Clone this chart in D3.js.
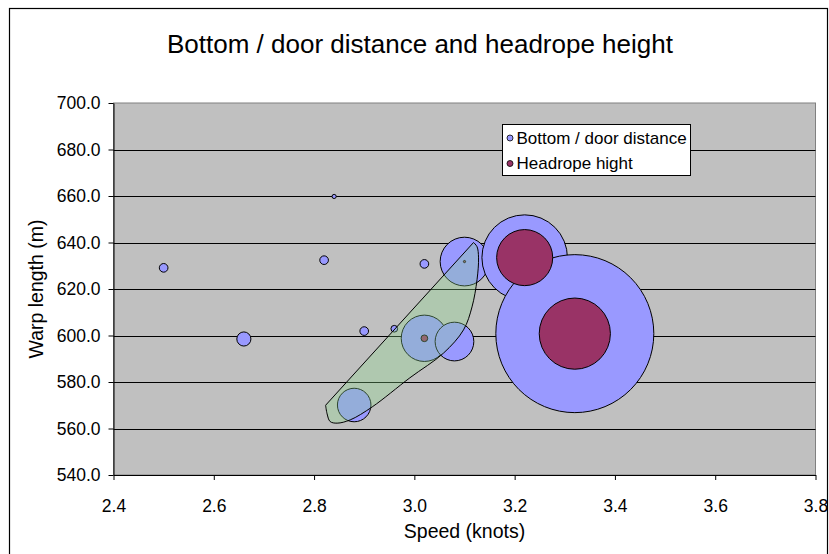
<!DOCTYPE html>
<html>
<head>
<meta charset="utf-8">
<script src="https://cdn.jsdelivr.net/npm/d3@7"></script>
<style>
  html, body { margin: 0; padding: 0; background: #fff; }
  svg { display: block; font-family: "Liberation Sans", Arial, sans-serif; }
</style>
</head>
<body>
<svg id="chart" width="829" height="554"></svg>
<script>
// Tow trials: speed through water vs. warp length paid out
const speeds      = [2.50, 2.66, 2.82, 2.84, 2.90, 2.96, 3.02, 3.02, 3.10, 3.08, 2.88, 3.22, 3.32];
const warpLengths = [629.1, 598.5, 632.4, 659.8, 601.9, 602.9, 630.8, 598.8, 631.8, 597.4, 570.1, 633.5, 600.8];
// Bubble sizes (area-proportional)
const bottomDoorDistance = [0.30, 0.80, 0.30, 0.07, 0.30, 0.18, 0.30, 8.6, 9.5, 6.0, 4.5, 29.3, 100];
const headropeHeight     = [0, 0, 0, 0, 0, 0, 0, 0.18, 0.02, 0, 0, 12.6, 20.3];

const seriesNames = ["Bottom / door distance", "Headrope hight"];
const xTicks = [2.4, 2.6, 2.8, 3.0, 3.2, 3.4, 3.6, 3.8];
const yTicks = [540, 560, 580, 600, 620, 640, 660, 680, 700];

// Outline of the highlighted group of hauls (speed, warp length)
const groupOutline = [
  [3.118, 640.0], [3.125, 638.2], [3.128, 633.4], [3.125, 624.0], [3.115, 612.3],
  [3.098, 602.4], [3.058, 592.4], [2.991, 581.8], [2.916, 569.3], [2.872, 563.7],
  [2.846, 562.3], [2.832, 563.0], [2.826, 566.3], [2.823, 570.0]
];

const svg = d3.select("#chart");
const plot = { left: 113.5, right: 815.5, top: 103, bottom: 475 };

const x = d3.scaleLinear().domain([2.4, 3.8]).range([plot.left, plot.right]);
const y = d3.scaleLinear().domain([540, 700]).range([plot.bottom, plot.top]);
const maxSize = d3.max(bottomDoorDistance.concat(headropeHeight));
const r = d3.scaleSqrt().domain([0, maxSize]).range([0, 79]);

const colors = { bottom: "#9999FF", headrope: "#993366" };

// Chart frame
svg.append("rect")
  .attr("x", 9.5).attr("y", 8.5).attr("width", 818).attr("height", 560)
  .attr("fill", "#fff").attr("stroke", "#000").attr("stroke-width", 1.2);

// Title
svg.append("text")
  .attr("x", 420).attr("y", 52.5).attr("text-anchor", "middle")
  .attr("font-size", 26).attr("fill", "#000")
  .text("Bottom / door distance and headrope height");

// Plot area
svg.append("rect")
  .attr("x", plot.left).attr("y", plot.top)
  .attr("width", plot.right - plot.left).attr("height", plot.bottom - plot.top)
  .attr("fill", "#C0C0C0").attr("stroke", "#808080").attr("stroke-width", 1);

// Horizontal gridlines
svg.append("g").selectAll("line")
  .data(yTicks.filter(v => v > 540 && v < 700))
  .join("line")
  .attr("x1", plot.left).attr("x2", plot.right)
  .attr("y1", d => Math.round(y(d)) + 0.5).attr("y2", d => Math.round(y(d)) + 0.5)
  .attr("stroke", "#000").attr("stroke-width", 1);

// Axes
const yAxis = svg.append("g")
  .attr("transform", `translate(${plot.left},0)`)
  .call(d3.axisLeft(y).tickValues(yTicks).tickFormat(d3.format(".1f"))
    .tickSize(5).tickPadding(8).tickSizeOuter(0));
const xAxis = svg.append("g")
  .attr("transform", `translate(0,${plot.bottom})`)
  .call(d3.axisBottom(x).tickValues(xTicks).tickFormat(d3.format(".1f"))
    .tickSize(5).tickPadding(20).tickSizeOuter(0));
[yAxis, xAxis].forEach(g => {
  g.selectAll("text").attr("font-size", 17.5).attr("font-family", "Liberation Sans, Arial, sans-serif").attr("fill", "#000");
  g.selectAll("line, path").attr("stroke", "#000");
});

// Axis titles
svg.append("text")
  .attr("x", (plot.left + plot.right) / 2).attr("y", 537.5)
  .attr("text-anchor", "middle").attr("font-size", 19.5)
  .text("Speed (knots)");
svg.append("text")
  .attr("transform", `translate(42.5,${(plot.top + plot.bottom) / 2}) rotate(-90)`)
  .attr("text-anchor", "middle").attr("font-size", 19.5)
  .text("Warp length (m)");

// Bubbles
const rows = speeds.map((s, i) => ({
  speed: s, warp: warpLengths[i], bottom: bottomDoorDistance[i], headrope: headropeHeight[i]
}));

const bubbles = svg.append("g");
bubbles.selectAll("circle.bottom")
  .data(rows.filter(d => d.bottom > 0))
  .join("circle").attr("class", "bottom")
  .attr("cx", d => x(d.speed)).attr("cy", d => y(d.warp)).attr("r", d => r(d.bottom))
  .attr("fill", colors.bottom).attr("stroke", "#000").attr("stroke-width", 1);
bubbles.selectAll("circle.headrope")
  .data(rows.filter(d => d.headrope > 0))
  .join("circle").attr("class", "headrope")
  .attr("cx", d => x(d.speed)).attr("cy", d => y(d.warp)).attr("r", d => r(d.headrope))
  .attr("fill", colors.headrope).attr("stroke", "#000").attr("stroke-width", 1);

// Highlighted group outline
const outline = d3.line()
  .x(d => x(d[0])).y(d => y(d[1]))
  .curve(d3.curveCatmullRom.alpha(0.5));
svg.append("path")
  .attr("d", outline(groupOutline) + "Z")
  .attr("fill", "#8BDB8B").attr("fill-opacity", 0.32)
  .attr("stroke", "#000").attr("stroke-width", 1);

// Legend
const legend = svg.append("g").attr("transform", "translate(502.5,124.5)");
legend.append("rect").attr("width", 188).attr("height", 51)
  .attr("fill", "#fff").attr("stroke", "#000").attr("stroke-width", 1);
const legendColors = [colors.bottom, colors.headrope];
seriesNames.forEach((name, i) => {
  legend.append("circle")
    .attr("cx", 7.5).attr("cy", 13.5 + i * 25.5).attr("r", 3)
    .attr("fill", legendColors[i]).attr("stroke", "#000").attr("stroke-width", 0.8);
  legend.append("text")
    .attr("x", 14).attr("y", 19 + i * 25.5).attr("font-size", 17)
    .text(name);
});
</script>
</body>
</html>
